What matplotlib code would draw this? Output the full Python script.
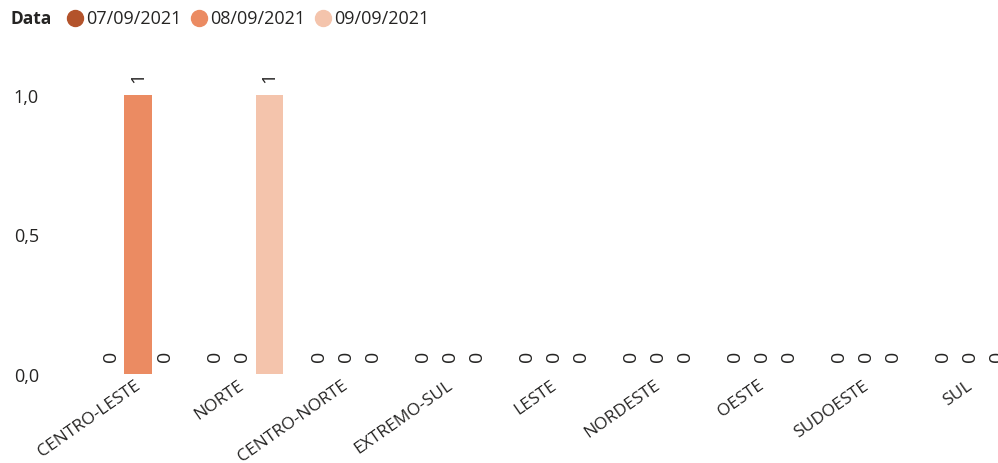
import numpy as np
import matplotlib.pyplot as plt
from matplotlib.transforms import ScaledTranslation

# -----------------------------
# Data
# -----------------------------
regioes = [
    "CENTRO-LESTE", "NORTE", "CENTRO-NORTE", "EXTREMO-SUL", "LESTE",
    "NORDESTE", "OESTE", "SUDOESTE", "SUL",
]
datas = ["07/09/2021", "08/09/2021", "09/09/2021"]

v_0709 = [0, 0, 0, 0, 0, 0, 0, 0, 0]
v_0809 = [1, 0, 0, 0, 0, 0, 0, 0, 0]
v_0909 = [0, 1, 0, 0, 0, 0, 0, 0, 0]

yticks = [0.0, 0.5, 1.0]
ytick_labels = ["0,0", "0,5", "1,0"]

cores = ["#B3532B", "#EB8B62", "#F4C4AC"]
texto = "#252423"

plt.rcParams["font.family"] = ["Open Sans", "DejaVu Sans"]

# -----------------------------
# Figure
# -----------------------------
fig = plt.figure(figsize=(9.98, 4.64), dpi=100)
ax = fig.add_axes([86 / 998, 1 - 375 / 464, 1 - 86 / 998, (375 - 60) / 464])

x = np.arange(len(regioes))
largura = 0.26
series = [v_0709, v_0809, v_0909]

for i, (vals, cor) in enumerate(zip(series, cores)):
    pos = x + (i - 1) * largura
    ax.bar(pos, vals, width=largura, color=cor, zorder=2)
    for p, v in zip(pos, vals):
        if v == 0:
            ax.text(p, 0.045, str(v), rotation=90, ha="center", va="bottom",
                    fontsize=14, color=texto)
        else:
            ax.text(p, v + 0.045, str(v), rotation=90, ha="center",
                    va="bottom", fontsize=14, color=texto)

ax.set_xlim(-0.5, 8.5 - 24 / 104)
ax.set_ylim(0, (375 - 60) / 279)

ax.set_yticks(yticks)
ax.set_yticklabels(ytick_labels, fontsize=13, color=texto)
ax.tick_params(axis="y", length=0, pad=34)

ax.set_xticks(x)
ax.set_xticklabels(regioes, rotation=35, ha="right",
                   rotation_mode="anchor", fontsize=12.5, color=texto)
ax.tick_params(axis="x", length=0, pad=2)
desloc = ScaledTranslation(-4 / 100, 0, fig.dpi_scale_trans)
for lbl in ax.get_xticklabels():
    lbl.set_transform(lbl.get_transform() + desloc)

for s in ax.spines.values():
    s.set_visible(False)

# -----------------------------
# Legend
# -----------------------------
yl = 1 - 19 / 464
fig.text(10 / 998, yl, "Data", fontsize=12.5, fontweight="bold",
         color=texto, va="center", ha="left")

xs = [75, 199, 323]
for xx, cor, d in zip(xs, cores, datas):
    fig.add_artist(plt.Line2D([xx / 998], [yl], marker="o",
                              markersize=11.5, color=cor, linestyle="none",
                              transform=fig.transFigure))
    fig.text((xx + 11) / 998, yl, d, fontsize=13, color=texto,
             va="center", ha="left")

plt.savefig("out.png", dpi=100)
